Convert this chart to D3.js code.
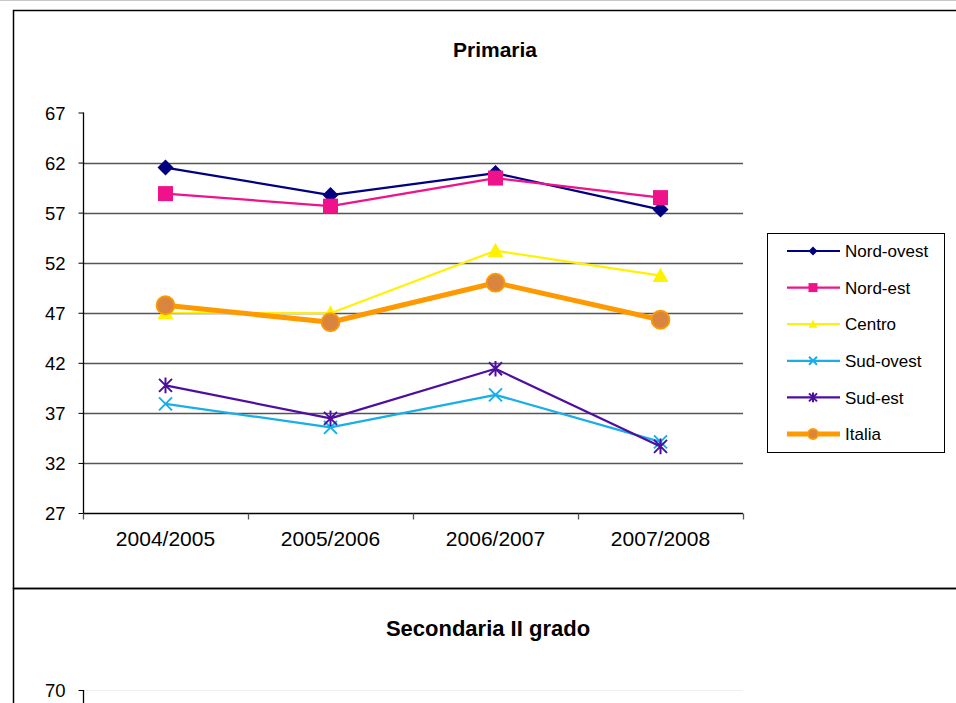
<!DOCTYPE html>
<html><head><meta charset="utf-8">
<script src="https://cdn.jsdelivr.net/npm/d3@7"></script>
<style>
html,body{margin:0;padding:0;background:#fff;}
svg{display:block;font-family:"Liberation Sans",Arial,sans-serif;}
</style></head>
<body>
<svg id="c" width="956" height="703"></svg>
<script>
const categories = ["2004/2005","2005/2006","2006/2007","2007/2008"];
const seriesNames = ["Nord-ovest","Nord-est","Centro","Sud-ovest","Sud-est","Italia"];
const nordOvest = [61.5, 58.75, 60.95, 57.3];
const nordEst   = [58.9, 57.65, 60.45, 58.5];
const centro    = [47.0, 46.95, 53.2, 50.7];
const sudOvest  = [37.9, 35.55, 38.8, 34.1];
const sudEst    = [39.75, 36.45, 41.4, 33.65];
const italia    = [47.75, 46.05, 50.0, 46.3];
const yTicks = [27,32,37,42,47,52,57,62,67];
const title1 = "Primaria";
const title2 = "Secondaria II grado";
const y2Ticks = [70];

const colors = ["#000080","#F0128A","#FFF200","#18AEE8","#4E0FA0","#FF9900"];
const markers = ["diamond","square","triangle","x","star","circle"];
const widths = [2.2,2.2,2.2,2.2,2.2,5];
const values = [nordOvest,nordEst,centro,sudOvest,sudEst,italia];

const svg = d3.select("#c");
const W = 956, H = 703;

// chart frames
svg.append("rect").attr("x",0).attr("y",0).attr("width",W).attr("height",H).attr("fill","#fff");
svg.append("line").attr("x1",0).attr("x2",W).attr("y1",0.5).attr("y2",0.5).attr("stroke","#c8c8c8");
svg.append("rect").attr("x",13.5).attr("y",10.5).attr("width",W).attr("height",578)
  .attr("fill","none").attr("stroke","#000").attr("stroke-width",1.5);
svg.append("rect").attr("x",13.5).attr("y",588.5).attr("width",W).attr("height",200)
  .attr("fill","none").attr("stroke","#000").attr("stroke-width",1.5);

// scales
const x = d3.scaleBand().domain(categories).range([83,743]);
const y = d3.scaleLinear().domain([27,67]).range([513,112.5]);

// gridlines
svg.append("g").selectAll("line").data(yTicks.filter(d=>d>27 && d<67)).join("line")
  .attr("x1",83).attr("x2",743)
  .attr("y1",d=>Math.round(y(d))+0.5).attr("y2",d=>Math.round(y(d))+0.5)
  .attr("stroke","#555").attr("stroke-width",1.3);

// y axis
const yAxis = d3.axisLeft(y).tickValues(yTicks).tickSize(5).tickPadding(13);
const gy = svg.append("g").attr("transform","translate(83.5,0)").call(yAxis);
gy.select(".domain").attr("stroke","#000").attr("stroke-width",1.3).attr("d","M0,"+y(67)+"V"+y(27));
gy.selectAll(".tick line").attr("stroke","#000");
gy.selectAll(".tick text").attr("font-size",18.5).attr("fill","#000")
  .attr("font-family","'Liberation Sans',Arial,sans-serif").attr("dy","0.36em");

// x axis
const gx = svg.append("g").attr("transform","translate(0,513.5)");
gx.append("line").attr("x1",83).attr("x2",743).attr("stroke","#000").attr("stroke-width",1.3);
gx.selectAll("line.t").data(categories.map(c=>x(c)).concat([743])).join("line").attr("class","t")
  .attr("x1",d=>Math.round(d)+0.5).attr("x2",d=>Math.round(d)+0.5).attr("y1",0).attr("y2",6)
  .attr("stroke","#555").attr("stroke-width",1.3);
gx.selectAll("text").data(categories).join("text")
  .attr("x",d=>x(d)+x.bandwidth()/2).attr("y",32.5).attr("text-anchor","middle")
  .attr("font-size",21).attr("fill","#000").text(d=>d);

// title
svg.append("text").attr("x",495).attr("y",57).attr("text-anchor","middle")
  .attr("font-size",21).attr("font-weight","bold").text(title1);

function markerPath(type, s){
  const h = s/2;
  switch(type){
    case "diamond": return `M0,${-h}L${h},0L0,${h}L${-h},0Z`;
    case "square": return `M${-h},${-h}H${h}V${h}H${-h}Z`;
    case "triangle": return `M0,${-h}L${h},${h*0.8}L${-h},${h*0.8}Z`;
    case "x": return `M${-h},${-h}L${h},${h}M${-h},${h}L${h},${-h}`;
    case "star": return `M${-h},${-h}L${h},${h}M${-h},${h}L${h},${-h}M0,${-h*1.2}V${h*1.2}`;
    case "circle": return `M${h},0A${h},${h} 0 1,1 ${-h},0A${h},${h} 0 1,1 ${h},0Z`;
  }
}
function drawMarker(g, type, color, s){
  const p = g.append("path").attr("d", markerPath(type,s));
  if(type==="x"||type==="star"){
    p.attr("fill","none").attr("stroke",color).attr("stroke-width",2);
  } else if(type==="circle"){
    p.attr("fill","#D9853F").attr("stroke",color).attr("stroke-width",1.8);
  } else {
    p.attr("fill",color).attr("stroke","none");
  }
}
const sizes = {diamond:16, square:15, triangle:16, x:13, star:13, circle:18};

const line = d3.line().x((d,i)=>x(categories[i])+x.bandwidth()/2).y(d=>y(d));
const order = [2,3,4,0,1,5];
order.forEach(k=>{
  svg.append("path").datum(values[k]).attr("d",line).attr("fill","none")
    .attr("stroke",colors[k]).attr("stroke-width",widths[k]).attr("stroke-linejoin","round");
  values[k].forEach((v,i)=>{
    const g = svg.append("g").attr("transform",`translate(${x(categories[i])+x.bandwidth()/2},${y(v)})`);
    drawMarker(g, markers[k], colors[k], sizes[markers[k]]);
  });
});

// legend
const lg = svg.append("g");
lg.append("rect").attr("x",767.5).attr("y",233.5).attr("width",177).attr("height",219)
  .attr("fill","#fff").attr("stroke","#000").attr("stroke-width",1);
const ly = d3.scalePoint().domain(seriesNames).range([251,434]);
seriesNames.forEach((n,k)=>{
  const yy = ly(n);
  lg.append("line").attr("x1",787).attr("x2",840).attr("y1",yy).attr("y2",yy)
    .attr("stroke",colors[k]).attr("stroke-width",k===5?5:2.2);
  const g = lg.append("g").attr("transform",`translate(813,${yy})`);
  drawMarker(g, markers[k], colors[k], k===5?10:(markers[k]==="x"||markers[k]==="star"?8:9));
  lg.append("text").attr("x",845).attr("y",yy).attr("dy","0.36em").attr("font-size",17).text(n);
});

// second chart (top part visible)
svg.append("text").attr("x",488).attr("y",636).attr("text-anchor","middle")
  .attr("font-size",22).attr("font-weight","bold").text(title2);
const y2 = d3.scaleLinear().domain([0,70]).range([1090,690]);
svg.append("line").attr("x1",83).attr("x2",743).attr("y1",690.5).attr("y2",690.5).attr("stroke","#eee");
const gy2 = svg.append("g").attr("transform","translate(83.5,0)")
  .call(d3.axisLeft(y2).tickValues(y2Ticks).tickSize(5).tickPadding(13));
gy2.select(".domain").attr("stroke","#000").attr("stroke-width",1.3).attr("d","M0,690V720");
gy2.selectAll(".tick line").attr("stroke","#000");
gy2.selectAll(".tick text").attr("font-size",18.5).attr("fill","#000")
  .attr("font-family","'Liberation Sans',Arial,sans-serif").attr("dy","0.36em");
</script>
</body></html>
